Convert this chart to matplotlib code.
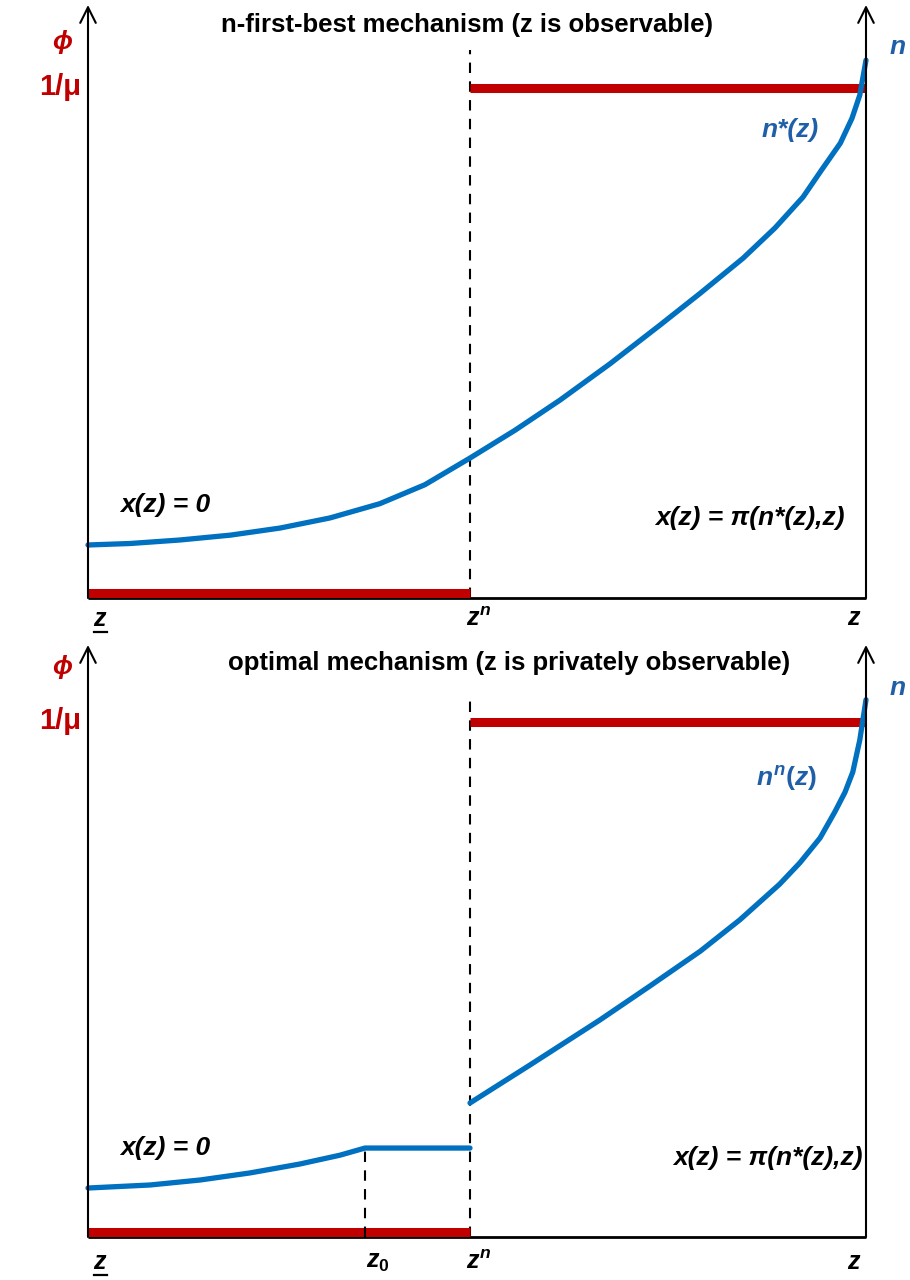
import matplotlib
matplotlib.use("Agg")
import matplotlib.pyplot as plt
import numpy as np

plt.rcParams['font.family'] = ['Liberation Sans', 'DejaVu Sans']
plt.rcParams['mathtext.fontset'] = 'custom'
plt.rcParams['mathtext.rm'] = 'Liberation Sans:bold'
plt.rcParams['mathtext.it'] = 'Liberation Sans:bold:italic'
plt.rcParams['mathtext.bf'] = 'Liberation Sans:bold'

RED = '#C00000'
BLUE = '#0070C0'
LBLUE = '#1F5FA8'

# ---- data (z normalized 0..1, phi normalized 0..1) ----
z_n = 0.491
z_0 = 0.356
inv_mu_top = 0.860
inv_mu_bot = 0.868

top_z = [0.0, 0.054, 0.118, 0.183, 0.247, 0.311, 0.375, 0.433, 0.491, 0.549, 0.607,
         0.671, 0.735, 0.787, 0.842, 0.883, 0.919, 0.943, 0.967, 0.982, 0.992, 1.0]
top_n = [0.0894, 0.0919, 0.0978, 0.106, 0.118, 0.135, 0.159, 0.191, 0.236, 0.283, 0.334,
         0.395, 0.460, 0.514, 0.573, 0.624, 0.676, 0.722, 0.767, 0.809, 0.848, 0.907]

bot_z1 = [0.0, 0.0797, 0.144, 0.208, 0.272, 0.324, 0.356, 0.491]
bot_n1 = [0.0826, 0.0877, 0.0961, 0.108, 0.123, 0.138, 0.150, 0.150]
bot_z2 = [0.491, 0.568, 0.658, 0.722, 0.787, 0.838, 0.889, 0.915, 0.941, 0.960,
          0.973, 0.983, 0.992, 1.0]
bot_n2 = [0.226, 0.290, 0.366, 0.423, 0.482, 0.535, 0.595, 0.631, 0.673, 0.717,
          0.750, 0.784, 0.838, 0.906]

titles = ["n-first-best mechanism (z is observable)",
          "optimal mechanism (z is privately observable)"]

W, H = 910, 1280
fig = plt.figure(figsize=(W / 100, H / 100), dpi=100)

def make_ax(top_px, bottom_px):
    ax = fig.add_axes([88 / W, 1 - bottom_px / H, 778 / W, (bottom_px - top_px) / H])
    ax.set_xlim(0, 1)
    ax.set_ylim(0, (bottom_px - top_px) / 593)
    ax.axis('off')
    return ax

def frame(ax, ytop, dashed_top):
    for xx in (0, 1):
        ax.annotate('', xy=(xx, ytop), xytext=(xx, 0), xycoords='data',
                    arrowprops=dict(arrowstyle='->', color='black', lw=1.5,
                                    mutation_scale=28, shrinkA=0, shrinkB=0),
                    annotation_clip=False)
    ax.plot([0, 1], [0, 0], color='black', lw=2, clip_on=False, solid_capstyle='butt')
    ax.plot([z_n, z_n], [0, dashed_top], color='black', lw=1.5, ls=(0, (5, 4)), clip_on=False)

def zlow(ax, y):
    ax.text(0.016, y, r'$z$', ha='center', va='center', fontsize=18)
    ax.plot([0.008, 0.024], [y - 0.022, y - 0.022], color='black', lw=1.6, clip_on=False)

curve_kw = dict(color=BLUE, lw=3.8, clip_on=False, solid_capstyle='round',
                solid_joinstyle='round')
lab_kw = dict(ha='center', va='center', fontsize=19, fontweight='bold', fontstyle='italic')

# ---------- top panel ----------
ax1 = make_ax(5, 598)
yt = (598 - 5) / 593
frame(ax1, yt, 0.924)
ax1.plot([0, z_n], [0.008, 0.008], color=RED, lw=6.5, solid_capstyle='butt', clip_on=False)
ax1.plot([z_n, 1], [inv_mu_top, inv_mu_top], color=RED, lw=6.5, solid_capstyle='butt', clip_on=False)
ax1.plot(top_z, top_n, **curve_kw)

ax1.text(0.487, 0.966, titles[0], ha='center', va='center', fontsize=18.5, fontweight='bold')
ax1.text(-0.033, 0.937, r'$\phi$', color=RED, ha='center', va='center', fontsize=19)
ax1.text(-0.036, 0.862, '1/μ', color=RED, ha='center', va='center', fontsize=21, fontweight='bold')
ax1.text(1.04, 0.930, 'n', color=LBLUE, **lab_kw)
ax1.text(0.903, 0.790, 'n*(z)', color=LBLUE, **lab_kw)
ax1.text(0.099, 0.157, 'x(z) = 0', **lab_kw)
ax1.text(0.851, 0.135, 'x(z) = π(n*(z),z)', **lab_kw)
zlow(ax1, -0.036)
ax1.text(z_n + 0.012, -0.036, r'$z^n$', ha='center', va='center', fontsize=18)
ax1.text(0.985, -0.034, r'$z$', ha='center', va='center', fontsize=18)

# ---------- bottom panel ----------
ax2 = make_ax(645, 1237)
yb = (1237 - 645) / 593
frame(ax2, yb, 0.914)
ax2.plot([0, z_n], [0.008, 0.008], color=RED, lw=6.5, solid_capstyle='butt', clip_on=False)
ax2.plot([z_n, 1], [inv_mu_bot, inv_mu_bot], color=RED, lw=6.5, solid_capstyle='butt', clip_on=False)
ax2.plot([z_0, z_0], [0, bot_n1[-1]], color='black', lw=1.5, ls=(0, (5, 4)))
ax2.plot(bot_z1, bot_n1, **curve_kw)
ax2.plot(bot_z2, bot_n2, **curve_kw)

ax2.text(0.541, 0.968, titles[1], ha='center', va='center', fontsize=18.5, fontweight='bold')
ax2.text(-0.033, 0.962, r'$\phi$', color=RED, ha='center', va='center', fontsize=19)
ax2.text(-0.036, 0.870, '1/μ', color=RED, ha='center', va='center', fontsize=21, fontweight='bold')
ax2.text(1.04, 0.925, 'n', color=LBLUE, **lab_kw)
ax2.text(0.897, 0.774, r'$n^n(z)$', color=LBLUE, ha='center', va='center', fontsize=19)
ax2.text(0.099, 0.150, 'x(z) = 0', **lab_kw)
ax2.text(0.874, 0.133, 'x(z) = π(n*(z),z)', **lab_kw)
zlow(ax2, -0.042)
ax2.text(z_0 + 0.016, -0.042, r'$z_0$', ha='center', va='center', fontsize=18)
ax2.text(z_n + 0.012, -0.042, r'$z^n$', ha='center', va='center', fontsize=18)
ax2.text(0.985, -0.042, r'$z$', ha='center', va='center', fontsize=18)

fig.savefig('out.png', dpi=100, facecolor='white')
